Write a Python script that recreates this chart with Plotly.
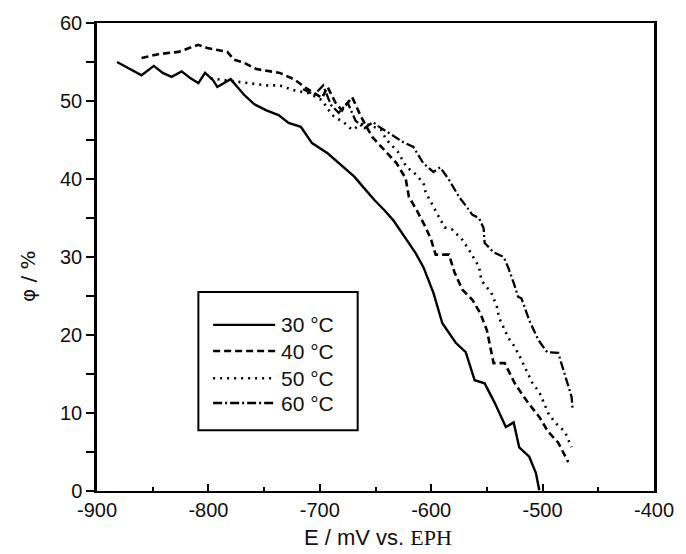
import plotly.graph_objects as go

e30 = [-882,-860,-849,-841,-833,-824,-816,-809,-803,-796,-792,-786,-780,-774,-768,-759,-748,-737,-728,-717,-707,-693,-678,-669,-660,-651,-642,-634,-622,-614,-607,-598,-590,-584,-578,-569,-561,-552,-543,-533,-526,-521,-512,-506,-503]
p30 = [55.0,53.3,54.5,53.6,53.1,53.8,52.9,52.3,53.6,52.7,51.8,52.3,52.8,51.8,50.8,49.6,48.8,48.2,47.2,46.7,44.6,43.3,41.5,40.3,38.8,37.3,36.0,34.7,32.2,30.5,28.7,25.4,21.5,20.2,19.0,17.8,14.2,13.8,11.3,8.2,8.8,5.6,4.4,2.3,0.1]

e40 = [-860,-845,-827,-809,-801,-790,-783,-777,-768,-757,-736,-722,-713,-707,-698,-693,-686,-680,-671,-663,-653,-642,-631,-623,-620,-613,-605,-600,-596,-584,-579,-572,-563,-556,-550,-544,-534,-525,-513,-503,-495,-486,-477]
p40 = [55.5,56.0,56.3,57.2,56.8,56.5,56.3,55.3,54.9,54.1,53.6,52.7,51.7,51.2,50.4,51.8,49.8,48.8,50.5,48.0,45.4,43.7,42.0,40.1,37.7,36.0,33.8,32.2,30.3,30.3,28.0,25.8,24.5,22.8,20.6,16.4,16.4,13.8,11.3,9.5,7.6,6.2,3.7]

e50 = [-798,-780,-768,-748,-736,-724,-710,-698,-689,-678,-671,-660,-645,-640,-630,-622,-616,-607,-605,-596,-588,-581,-572,-566,-557,-555,-546,-541,-539,-531,-526,-521,-513,-509,-503,-499,-495,-489,-480,-474]
p50 = [52.9,52.6,52.4,52.0,52.0,51.4,51.0,50.1,48.2,47.2,46.3,47.2,46.3,45.0,43.5,41.5,40.9,39.5,38.3,36.0,33.8,33.5,32.2,30.9,28.7,27.0,25.4,23.6,22.2,19.7,18.7,17.4,14.9,13.8,12.7,11.3,10.0,8.8,7.6,5.6]

e60 = [-715,-705,-697,-690,-683,-675,-668,-660,-652,-649,-638,-625,-616,-607,-598,-592,-584,-575,-568,-563,-557,-553,-552,-544,-535,-531,-526,-522,-519,-512,-504,-496,-486,-482,-478,-474,-473]
p60 = [51.5,50.8,52.0,49.5,48.5,49.8,47.5,46.5,47.3,46.9,45.9,44.7,44.1,42.0,40.9,41.5,39.9,37.7,36.4,35.4,35.0,33.7,31.8,30.6,30.0,28.7,26.7,24.9,24.7,21.9,19.4,17.8,17.7,15.9,14.2,12.1,10.4]

names = ["30 °C", "40 °C", "50 °C", "60 °C"]
x_tickvals = [-900, -800, -700, -600, -500, -400]
x_ticktext = ["-900", "-800", "-700", "-600", "-500", "-400"]

series = [(e30, p30), (e40, p40), (e50, p50), (e60, p60)]
dashes = ["solid", "7px,4px", "2px,5px", "9px,3px,2px,3px"]
widths = [2.4, 2.6, 2.6, 2.3]

fig = go.Figure()
for (x, y), n, d, w in zip(series, names, dashes, widths):
    fig.add_trace(go.Scatter(x=x, y=y, mode="lines", name=n, showlegend=False,
                             line=dict(color="black", width=w, dash=d)))

# hand-drawn legend box (layout decoration, in paper coordinates)
leg_rows = [0.355, 0.299, 0.241, 0.188]
shapes = [dict(type="rect", xref="paper", yref="paper", x0=0.182, x1=0.468, y0=0.130, y1=0.425,
               line=dict(color="black", width=2), fillcolor="white", layer="above")]
annotations = []
for n, d, w, yr in zip(names, dashes, widths, leg_rows):
    shapes.append(dict(type="line", xref="paper", yref="paper", x0=0.2085, x1=0.3198, y0=yr, y1=yr,
                       line=dict(color="black", width=w, dash=d), layer="above"))
    annotations.append(dict(text=n, xref="paper", yref="paper", x=0.327, y=yr, xanchor="left",
                            yanchor="middle", showarrow=False,
                            font=dict(family="Liberation Sans, Arial", size=21, color="#111")))

tickfont = dict(family="Liberation Sans, Arial", size=20, color="#111")
annotations += [
    dict(text="E / mV vs. <span style=\"font-family:'Liberation Serif', 'Times New Roman'\">EPH</span>",
         xref="paper", yref="paper", x=0.505, y=-0.10, xanchor="center", yanchor="middle",
         showarrow=False, font=dict(family="Liberation Sans, Arial", size=22, color="#111")),
    dict(text="φ / %", xref="paper", yref="paper", x=-0.125, y=0.46,
         xanchor="center", yanchor="middle", textangle=-90, showarrow=False,
         font=dict(family="DejaVu Sans, Liberation Sans", size=20, color="#111")),
]

fig.update_layout(
    width=686, height=554,
    margin=dict(l=97, r=23, t=23, b=63),
    paper_bgcolor="white", plot_bgcolor="white",
    showlegend=False,
    shapes=shapes,
    annotations=annotations,
    xaxis=dict(range=[-900, -400], tickvals=x_tickvals, ticktext=x_ticktext,
               showline=True, linecolor="black", linewidth=2, mirror=True,
               ticks="inside", ticklen=7, tickwidth=2, tickcolor="black",
               minor=dict(ticks="inside", dtick=50, ticklen=4, tickwidth=2, tickcolor="black"),
               showgrid=False, zeroline=False, tickfont=tickfont),
    yaxis=dict(range=[0, 60], dtick=10,
               showline=True, linecolor="black", linewidth=2.5, mirror=True,
               ticks="outside", ticklen=8, tickwidth=2, tickcolor="black",
               minor=dict(ticks="outside", dtick=5, ticklen=8, tickwidth=2, tickcolor="black"),
               showgrid=False, zeroline=False, tickfont=tickfont),
)

fig.write_html("out.html")
